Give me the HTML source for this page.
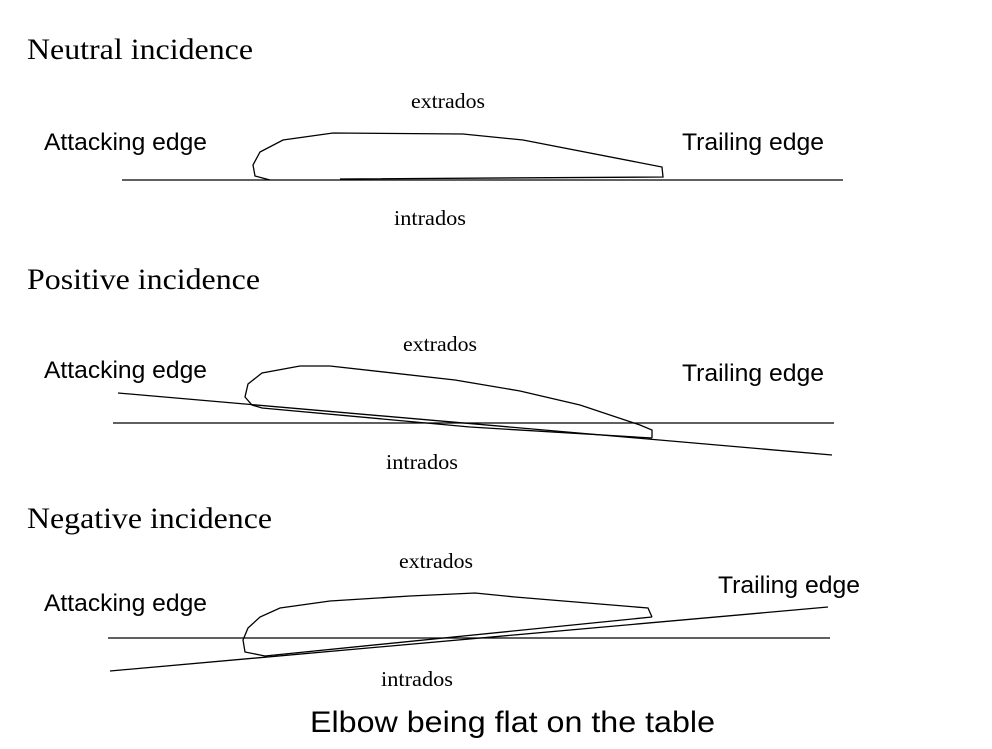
<!DOCTYPE html>
<html><head><style>
body{margin:0;background:#fff;width:992px;height:744px;overflow:hidden}
</style></head><body>
<svg width="992" height="744" xmlns="http://www.w3.org/2000/svg">
<g font-family="Liberation Serif, serif" fill="#000">
<text x="27" y="59" font-size="30" textLength="226" lengthAdjust="spacingAndGlyphs">Neutral incidence</text>
<text x="27" y="289" font-size="30" textLength="233" lengthAdjust="spacingAndGlyphs">Positive incidence</text>
<text x="27" y="528" font-size="30" textLength="245" lengthAdjust="spacingAndGlyphs">Negative incidence</text>
<text x="411" y="108" font-size="21" textLength="74" lengthAdjust="spacingAndGlyphs">extrados</text>
<text x="394" y="225" font-size="21" textLength="72" lengthAdjust="spacingAndGlyphs">intrados</text>
<text x="403" y="351" font-size="21" textLength="74" lengthAdjust="spacingAndGlyphs">extrados</text>
<text x="386" y="469" font-size="21" textLength="72" lengthAdjust="spacingAndGlyphs">intrados</text>
<text x="399" y="568" font-size="21" textLength="74" lengthAdjust="spacingAndGlyphs">extrados</text>
<text x="381" y="686" font-size="21" textLength="72" lengthAdjust="spacingAndGlyphs">intrados</text>
</g>
<g font-family="Liberation Sans, sans-serif" font-size="24" fill="#000">
<text x="44" y="150" textLength="163" lengthAdjust="spacingAndGlyphs">Attacking edge</text>
<text x="682" y="150" textLength="142" lengthAdjust="spacingAndGlyphs">Trailing edge</text>
<text x="44" y="378" textLength="163" lengthAdjust="spacingAndGlyphs">Attacking edge</text>
<text x="682" y="381" textLength="142" lengthAdjust="spacingAndGlyphs">Trailing edge</text>
<text x="44" y="611" textLength="163" lengthAdjust="spacingAndGlyphs">Attacking edge</text>
<text x="718" y="593" textLength="142" lengthAdjust="spacingAndGlyphs">Trailing edge</text>
<text x="310" y="732" font-size="30" textLength="405" lengthAdjust="spacingAndGlyphs">Elbow being flat on the table</text>
</g>
<g stroke="#000" stroke-width="1.3" fill="none">
<line x1="122" y1="180" x2="843" y2="180"/>
<polyline points="270,180 255,176 253,165 260,152 283,140 333,133 463,134 523,140 662,167 663,177 340,179"/>
<line x1="113" y1="423" x2="834" y2="423"/>
<line x1="118" y1="393" x2="832" y2="455"/>
<polyline points="652,438 652,430 640,425 580,405 520,391 455,380 330,366 300,366 262,373 248,384 245,397 252,405 262,408 470,427 652,438"/>
<line x1="108" y1="638" x2="830" y2="638"/>
<line x1="110" y1="671" x2="828" y2="607"/>
<polyline points="652,617 648,608 515,597 475,593 410,596 330,601 280,608 260,617 248,628 243,640 245,652 265,656 652,617"/>
</g>
</svg>
</body></html>
